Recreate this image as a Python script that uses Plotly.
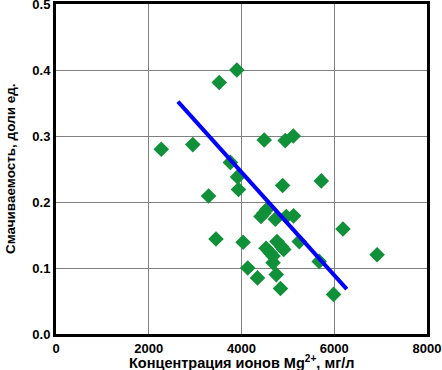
import plotly.graph_objects as go

# Scatter data: Mg2+ concentration (mg/l) vs wettability (fraction)
mg_conc = [2270, 2950, 3290, 3450, 3520, 3900, 3760, 3915, 3935, 4035,
           4135, 4345, 4490, 4420, 4480, 4550, 4530, 4620, 4680, 4680,
           4730, 4750, 4765, 4870, 4910, 4840, 4886, 4943, 5116, 4965,
           5123, 5246, 5720, 5676, 5985, 6188, 6924]
wettability = [0.280, 0.287, 0.209, 0.144, 0.381, 0.400, 0.260, 0.238, 0.219, 0.139,
               0.100, 0.085, 0.294, 0.178, 0.183, 0.189, 0.130, 0.123, 0.118, 0.108,
               0.174, 0.090, 0.140, 0.132, 0.128, 0.069, 0.225, 0.293, 0.300, 0.178,
               0.179, 0.140, 0.232, 0.110, 0.060, 0.159, 0.120]

# Trend line endpoints
fit_x = [2630, 6270]
fit_y = [0.352, 0.068]

x_ticks = [0, 2000, 4000, 6000, 8000]
y_ticks = [0.0, 0.1, 0.2, 0.3, 0.4, 0.5]

font_family = "Liberation Sans, Arial, sans-serif"

fig = go.Figure()
fig.add_trace(go.Scatter(
    x=mg_conc, y=wettability, mode="markers",
    marker=dict(symbol="diamond", size=12, color="#109038",
                line=dict(width=0)),
    showlegend=False,
))
fig.add_trace(go.Scatter(
    x=fit_x, y=fit_y, mode="lines",
    line=dict(color="#0000ff", width=4),
    showlegend=False,
))

fig.update_layout(
    width=442, height=370,
    margin=dict(l=56, r=15, t=4, b=36),
    paper_bgcolor="white", plot_bgcolor="white",
    font=dict(family=font_family, size=13, color="black"),
    xaxis=dict(
        range=[0, 8000], tickvals=x_ticks,
        ticktext=[f"<b>{v}</b>" for v in x_ticks],
        showgrid=True, gridcolor="#808080", gridwidth=1,
        showline=True, linecolor="black", linewidth=3, mirror=True,
        zeroline=False, ticks="", automargin=False,
        ticklabeloverflow="allow",
    ),
    yaxis=dict(
        range=[0, 0.5], tickvals=y_ticks,
        ticktext=[f"<b>{v:.1f}</b>" for v in y_ticks],
        showgrid=True, gridcolor="#808080", gridwidth=1,
        showline=True, linecolor="black", linewidth=3, mirror=True,
        zeroline=False, ticks="", automargin=False,
        ticklabeloverflow="allow",
    ),
    annotations=[
        dict(text="<b>Концентрация ионов Mg<sup>2+</sup>, мг/л</b>",
             xref="paper", yref="paper", x=0.5, y=0,
             xanchor="center", yanchor="middle", yshift=-28,
             showarrow=False, font=dict(size=14.5)),
        dict(text="<b>Смачиваемость, доли ед.</b>",
             xref="paper", yref="paper", x=0, y=0.5,
             xanchor="center", yanchor="middle", xshift=-46,
             textangle=-90, showarrow=False, font=dict(size=13.5)),
    ],
)

fig.write_html("out.html",
               config={"displayModeBar": False},
               post_script="document.body.style.margin='0';document.body.style.overflow='hidden';")
